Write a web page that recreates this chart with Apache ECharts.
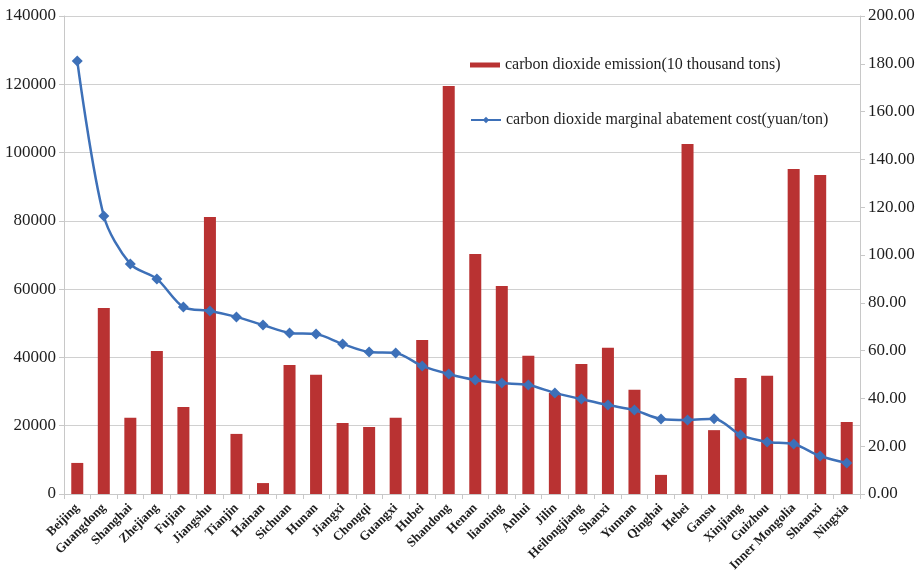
<!DOCTYPE html>
<html>
<head>
<meta charset="utf-8">
<script src="https://cdn.jsdelivr.net/npm/echarts@6/dist/echarts.min.js"></script>
<style>
  html, body { margin: 0; padding: 0; background: #fff; }
  #chart { width: 923px; height: 577px; }
</style>
</head>
<body>
<div id="chart"></div>
<script>
// Provinces, ordered by marginal abatement cost
const provinces = ['Beijing', 'Guangdong', 'Shanghai', 'Zhejiang', 'Fujian', 'Jiangshu', 'Tianjin', 'Hainan',
  'Sichuan', 'Hunan', 'Jiangxi', 'Chongqi', 'Guangxi', 'Hubei', 'Shandong', 'Henan', 'liaoning', 'Anhui',
  'Jilin', 'Heilongjiang', 'Shanxi', 'Yunnan', 'Qinghai', 'Hebei', 'Gansu', 'Xinjiang', 'Guizhou',
  'Inner Mongolia', 'Shaanxi', 'Ningxia'];

// CO2 emission, 10 thousand tons
const emission = [9100, 54500, 22300, 41900, 25500, 81100, 17600, 3200, 37800, 34900, 20800, 19600,
  22300, 45100, 119500, 70300, 60900, 40500, 29600, 38100, 42800, 30500, 5600, 102500, 18700, 34000,
  34600, 95200, 93400, 21100];

// CO2 marginal abatement cost, yuan/ton
const abatementCost = [181.2, 116.3, 96.2, 90.0, 78.2, 76.6, 74.1, 70.7, 67.4, 66.9, 62.8, 59.4, 59.0,
  53.6, 50.2, 47.7, 46.4, 45.6, 42.3, 39.7, 37.2, 35.1, 31.4, 31.0, 31.5, 24.7, 21.8, 20.9, 15.9, 13.0];

const emissionName = 'carbon dioxide emission(10 thousand tons)';
const costName = 'carbon dioxide marginal abatement cost(yuan/ton)';

const serif = '"Liberation Serif", "DejaVu Serif", serif';
const axisGrey = '#c8c8c8';
const textColor = '#1e1e1e';

const chart = echarts.init(document.getElementById('chart'));
chart.setOption({
  backgroundColor: '#fff',
  animation: false,
  textStyle: { fontFamily: serif },
  grid: { left: 64, right: 63, top: 16, bottom: 83 },
  legend: [
    {
      data: [{ name: emissionName, icon: 'rect' }],
      left: 465, top: 52,
      itemWidth: 30, itemHeight: 5,
      textStyle: { fontFamily: serif, fontSize: 16, color: textColor }
    },
    {
      data: [{ name: costName }],
      left: 465, top: 107,
      itemWidth: 30, itemHeight: 8,
      textStyle: { fontFamily: serif, fontSize: 16, color: textColor }
    }
  ],
  xAxis: {
    type: 'category',
    data: provinces,
    boundaryGap: true,
    axisLine: { lineStyle: { color: axisGrey, width: 1 } },
    axisTick: { show: true, alignWithLabel: false, length: 5, lineStyle: { color: axisGrey } },
    axisLabel: {
      interval: 0, rotate: 45, margin: 12,
      fontFamily: serif, fontSize: 13, fontWeight: 'bold', color: textColor
    }
  },
  yAxis: [
    {
      type: 'value', min: 0, max: 140000, interval: 20000,
      axisLine: { show: true, lineStyle: { color: axisGrey } },
      axisTick: { show: true, length: 5, lineStyle: { color: axisGrey } },
      splitLine: { show: true, lineStyle: { color: '#d0d0d0', width: 1 } },
      axisLabel: {
        fontFamily: serif, fontSize: 17, color: textColor, margin: 8,
        formatter: v => String(v)
      }
    },
    {
      type: 'value', min: 0, max: 200, interval: 20, position: 'right',
      axisLine: { show: true, lineStyle: { color: axisGrey } },
      axisTick: { show: true, length: 5, lineStyle: { color: axisGrey } },
      splitLine: { show: false },
      axisLabel: {
        fontFamily: serif, fontSize: 17, color: textColor, margin: 8,
        formatter: v => v.toFixed(2)
      }
    }
  ],
  series: [
    {
      name: emissionName,
      type: 'bar',
      yAxisIndex: 0,
      data: emission,
      barWidth: 12,
      itemStyle: { color: '#b93232' },
      z: 2
    },
    {
      name: costName,
      type: 'line',
      yAxisIndex: 1,
      data: abatementCost,
      smooth: 0.3,
      symbol: 'diamond',
      symbolSize: 11,
      lineStyle: { color: '#3d70b8', width: 2.5 },
      itemStyle: { color: '#3d70b8' },
      z: 3
    }
  ]
});
</script>
</body>
</html>
